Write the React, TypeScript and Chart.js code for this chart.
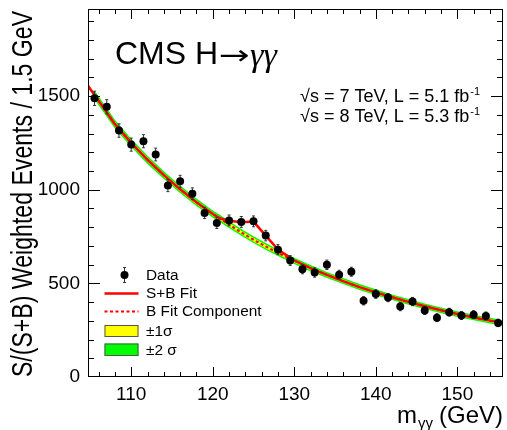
import React, { useEffect, useRef } from 'react';
import { Chart, registerables } from 'chart.js';

Chart.register(...registerables);

// ---- data ----
const massBins = [105.5, 107, 108.5, 110, 111.5, 113, 114.5, 116, 117.5, 119, 120.5, 122, 123.5, 125, 126.5, 128, 129.5, 131, 132.5, 134, 135.5, 137, 138.5, 140, 141.5, 143, 144.5, 146, 147.5, 149, 150.5, 152, 153.5, 155];
const weightedEvents = [1488, 1443, 1316, 1241, 1259, 1188, 1022, 1045, 979, 876, 822, 836, 828, 831, 755, 680, 622, 576, 558, 599, 546, 562, 407, 443, 424, 376, 403, 355, 317, 346, 328, 333, 326, 289];
const eventErrors = [38, 38, 36, 35, 35, 34, 32, 32, 31, 30, 29, 29, 29, 29, 28, 27, 26, 25, 25, 25, 24, 24, 22, 23, 22, 22, 22, 21, 21, 21, 21, 21, 21, 20];

const fitMass = [104.7, 105.5, 106, 108, 110, 112, 114, 116, 118, 120, 121, 122, 123.5, 125, 126.5, 128, 130, 132, 134, 136, 138, 140, 142, 144, 146, 148, 150, 152, 154, 155.6];
const bFit = [1555, 1505, 1475, 1350, 1250, 1160, 1078, 1002, 933, 870, 843, 814, 772, 733, 697, 663, 620, 581, 545, 512, 480, 452, 426, 401, 378, 356, 336, 318, 301, 288];
const sbFit = [1555, 1505, 1475, 1350, 1250, 1160, 1078, 1002, 933, 870, 845, 834, 826, 830, 755, 680, 622, 581, 545, 512, 480, 452, 426, 401, 378, 356, 336, 318, 301, 288];
const sigma1 = [null, 12, 12, 11, 11, 11, 10, 10, 10, 9, 9, 9, 9, 9, 9, 8, 8, 8, 8, 8, 7, 7, 7, 7, 7, 7, 7, 7, 7, 7];
const sigma2 = [null, 24, 24, 23, 22, 22, 21, 20, 20, 19, 19, 19, 18, 18, 18, 17, 17, 17, 16, 16, 16, 16, 15, 15, 15, 15, 15, 15, 15, 15];

const xTickValues = [110, 120, 130, 140, 150];
const yTickValues = [0, 500, 1000, 1500];
const xRange = [104.7, 155.6];
const yRange = [0, 1965];

const legendLabels = ['Data', 'S+B Fit', 'B Fit Component', '±1σ', '±2 σ'];
const titleText = 'CMS H';
const titleArrow = '→';
const titleGammas = 'γγ';
const energyLines = ['√s = 7 TeV, L = 5.1 fb', '√s = 8 TeV, L = 5.3 fb'];
const energySup = '-1';
const yTitle = 'S/(S+B) Weighted Events / 1.5 GeV';
const xTitleMain = 'm';
const xTitleSub = 'γγ';
const xTitleUnit = '(GeV)';

const SANS = '"Liberation Sans", Arial, Helvetica, sans-serif';
const SERIF = '"Liberation Serif", "DejaVu Serif", serif';
const RED = '#ff0000';
const YELLOW = '#ffff00';
const GREEN = '#00ff00';

const bandIdx = fitMass.map((_, i) => i).filter((i) => sigma1[i] != null);
const bandData = (sig: (number | null)[], sign: number) =>
  bandIdx.map((i) => ({ x: fitMass[i], y: bFit[i] + sign * (sig[i] as number) }));

const decor = {
  id: 'cmsDecor',
  beforeDatasetDraw(chart: any, args: any) {
    if (args.index !== 0) return;
    const { ctx, scales } = chart;
    const x = scales.x;
    const y = scales.y;
    ctx.save();
    ctx.strokeStyle = '#333';
    ctx.lineWidth = 1;
    massBins.forEach((m, i) => {
      const px = x.getPixelForValue(m);
      const y1 = y.getPixelForValue(weightedEvents[i] - eventErrors[i]);
      const y2 = y.getPixelForValue(weightedEvents[i] + eventErrors[i]);
      ctx.beginPath();
      ctx.moveTo(px, y1);
      ctx.lineTo(px, y2);
      ctx.moveTo(px - 1.5, y1);
      ctx.lineTo(px + 1.5, y1);
      ctx.moveTo(px - 1.5, y2);
      ctx.lineTo(px + 1.5, y2);
      ctx.stroke();
    });
    ctx.restore();
  },
  afterDraw(chart: any) {
    const { ctx, chartArea: a, scales } = chart;
    const x = scales.x;
    const y = scales.y;
    ctx.save();
    // frame
    ctx.strokeStyle = '#000';
    ctx.lineWidth = 1;
    ctx.strokeRect(a.left + 0.5, a.top + 0.5, a.right - a.left - 1, a.bottom - a.top - 1);
    // inward ticks
    ctx.beginPath();
    for (let v = Math.ceil(xRange[0] / 2) * 2; v <= xRange[1]; v += 2) {
      const px = Math.round(x.getPixelForValue(v)) + 0.5;
      const len = v % 10 === 0 ? 10 : 5;
      ctx.moveTo(px, a.bottom);
      ctx.lineTo(px, a.bottom - len);
      ctx.moveTo(px, a.top);
      ctx.lineTo(px, a.top + len);
    }
    for (let v = 100; v <= yRange[1]; v += 100) {
      const py = Math.round(y.getPixelForValue(v)) + 0.5;
      const len = v % 500 === 0 ? 12 : 6;
      ctx.moveTo(a.left, py);
      ctx.lineTo(a.left + len, py);
      ctx.moveTo(a.right, py);
      ctx.lineTo(a.right - len, py);
    }
    ctx.stroke();

    ctx.fillStyle = '#000';
    ctx.textAlign = 'left';
    ctx.textBaseline = 'alphabetic';
    // CMS H->gg
    ctx.font = `32px ${SANS}`;
    ctx.fillText(titleText, 115, 64);
    let cx = 115 + ctx.measureText(titleText).width + 1;
    ctx.font = `30px "DejaVu Sans", ${SANS}`;
    const aw = ctx.measureText(titleArrow).width;
    ctx.save();
    ctx.translate(cx, 64);
    ctx.scale(31 / aw, 0.9);
    ctx.fillText(titleArrow, 0, 0);
    ctx.restore();
    cx += 31;
    ctx.font = `italic 34px ${SERIF}`;
    ctx.fillText(titleGammas, cx, 66);

    // energy / lumi
    const eb = [101.5, 121.5];
    energyLines.forEach((t, i) => {
      ctx.font = `18px ${SANS}`;
      ctx.fillText(t, 300, eb[i]);
      const w = ctx.measureText(t).width;
      ctx.font = `11px ${SANS}`;
      ctx.fillText(energySup, 300 + w + 1, eb[i] - 7);
    });

    // y title
    ctx.save();
    ctx.translate(32, 194);
    ctx.rotate(-Math.PI / 2);
    ctx.scale(0.77, 1);
    ctx.font = `30px ${SANS}`;
    ctx.textAlign = 'center';
    ctx.fillText(yTitle, 0, 0);
    ctx.restore();

    // x title
    ctx.textAlign = 'right';
    ctx.font = `24px ${SANS}`;
    ctx.fillText(xTitleUnit, 503, 423);
    const uw = ctx.measureText(xTitleUnit).width;
    ctx.font = `15px ${SANS}`;
    const sx = 503 - uw - 6;
    ctx.fillText(xTitleSub, sx, 428);
    const sw = ctx.measureText(xTitleSub).width;
    ctx.font = `24px ${SANS}`;
    ctx.fillText(xTitleMain, sx - sw - 1, 423);

    // legend
    const lx0 = 104.5;
    const lx1 = 138.5;
    ctx.strokeStyle = '#333';
    ctx.lineWidth = 1;
    ctx.beginPath();
    ctx.moveTo(124.5, 267);
    ctx.lineTo(124.5, 283);
    ctx.moveTo(123, 267.5);
    ctx.lineTo(126, 267.5);
    ctx.moveTo(123, 282.5);
    ctx.lineTo(126, 282.5);
    ctx.stroke();
    ctx.fillStyle = '#000';
    ctx.beginPath();
    ctx.arc(124.5, 275, 4, 0, Math.PI * 2);
    ctx.fill();
    ctx.strokeStyle = RED;
    ctx.lineWidth = 2.5;
    ctx.beginPath();
    ctx.moveTo(lx0, 293.5);
    ctx.lineTo(lx1, 293.5);
    ctx.stroke();
    ctx.lineWidth = 2;
    ctx.setLineDash([3, 2.5]);
    ctx.beginPath();
    ctx.moveTo(lx0, 311.5);
    ctx.lineTo(lx1, 311.5);
    ctx.stroke();
    ctx.setLineDash([]);
    ctx.lineWidth = 1;
    ctx.strokeStyle = '#555';
    ctx.fillStyle = YELLOW;
    ctx.fillRect(lx0, 325, lx1 - lx0, 12);
    ctx.strokeRect(lx0 + 0.5, 325.5, lx1 - lx0 - 1, 11);
    ctx.fillStyle = GREEN;
    ctx.fillRect(lx0, 343.5, lx1 - lx0, 12.5);
    ctx.strokeRect(lx0 + 0.5, 344, lx1 - lx0 - 1, 11.5);
    ctx.fillStyle = '#000';
    ctx.textAlign = 'left';
    const lb = [279.5, 298, 316, 336, 355];
    legendLabels.forEach((t, i) => {
      ctx.save();
      ctx.translate(146, lb[i]);
      ctx.scale(1.1, 1);
      ctx.font = `14px ${SANS}`;
      ctx.fillText(t, 0, 0);
      ctx.restore();
    });
    ctx.restore();
  },
};

export default function App() {
  const ref = useRef<HTMLCanvasElement | null>(null);
  useEffect(() => {
    if (!ref.current) return;
    const chart = new Chart(ref.current, {
      type: 'line',
      data: {
        datasets: [
          {
            label: legendLabels[0],
            data: massBins.map((m, i) => ({ x: m, y: weightedEvents[i] })),
            showLine: false,
            pointRadius: 4,
            pointBackgroundColor: '#000',
            pointBorderWidth: 0,
            order: 0,
          } as any,
          {
            label: legendLabels[1],
            data: fitMass.map((m, i) => ({ x: m, y: sbFit[i] })),
            borderColor: RED,
            borderWidth: 2.5,
            pointRadius: 0,
            tension: 0,
            order: 1,
          },
          {
            label: legendLabels[2],
            data: fitMass.map((m, i) => ({ x: m, y: bFit[i] })),
            borderColor: RED,
            borderWidth: 2,
            borderDash: [3, 2.5],
            pointRadius: 0,
            tension: 0,
            order: 2,
          },
          {
            label: '1 sigma up',
            data: bandData(sigma1, 1),
            borderWidth: 0,
            borderColor: 'rgba(0,0,0,0)',
            backgroundColor: YELLOW,
            pointRadius: 0,
            fill: { target: 4 },
            order: 3,
          },
          {
            label: '1 sigma down',
            data: bandData(sigma1, -1),
            borderWidth: 0,
            borderColor: 'rgba(0,0,0,0)',
            pointRadius: 0,
            fill: false,
            order: 3,
          },
          {
            label: '2 sigma up',
            data: bandData(sigma2, 1),
            borderWidth: 0,
            borderColor: 'rgba(0,0,0,0)',
            backgroundColor: GREEN,
            pointRadius: 0,
            fill: { target: 6 },
            order: 5,
          },
          {
            label: '2 sigma down',
            data: bandData(sigma2, -1),
            borderWidth: 0,
            borderColor: 'rgba(0,0,0,0)',
            pointRadius: 0,
            fill: false,
            order: 5,
          },
        ],
      },
      options: {
        animation: false,
        responsive: false,
        devicePixelRatio: 1,
        layout: { padding: { top: 9, right: 1, left: 0, bottom: 0 } },
        plugins: { legend: { display: false }, tooltip: { enabled: false } },
        scales: {
          x: {
            type: 'linear',
            min: xRange[0],
            max: xRange[1],
            grid: { display: false, drawTicks: false },
            border: { display: false },
            ticks: {
              font: { family: SANS, size: 19 },
              color: '#000',
              padding: 6,
              maxRotation: 0,
              callback: (v: any) => String(v),
            },
            afterBuildTicks: (s: any) => {
              s.ticks = xTickValues.map((v) => ({ value: v }));
            },
            afterFit: (s: any) => {
              s.height = 53;
              s.paddingLeft = 0;
              s.paddingRight = 0;
            },
          },
          y: {
            type: 'linear',
            min: yRange[0],
            max: yRange[1],
            grid: { display: false, drawTicks: false },
            border: { display: false },
            ticks: {
              font: { family: SANS, size: 19 },
              color: '#000',
              padding: 8,
              callback: (v: any) => String(v),
            },
            afterBuildTicks: (s: any) => {
              s.ticks = yTickValues.map((v) => ({ value: v }));
            },
            afterFit: (s: any) => {
              s.width = 88;
              s.paddingTop = 0;
              s.paddingBottom = 0;
            },
          },
        },
      },
      plugins: [decor],
    });
    return () => chart.destroy();
  }, []);
  return (
    <div style={{ position: 'fixed', left: 0, top: 0, width: 507, height: 430, background: '#fff' }}>
      <canvas ref={ref} width={507} height={430} style={{ display: 'block' }} />
    </div>
  );
}
